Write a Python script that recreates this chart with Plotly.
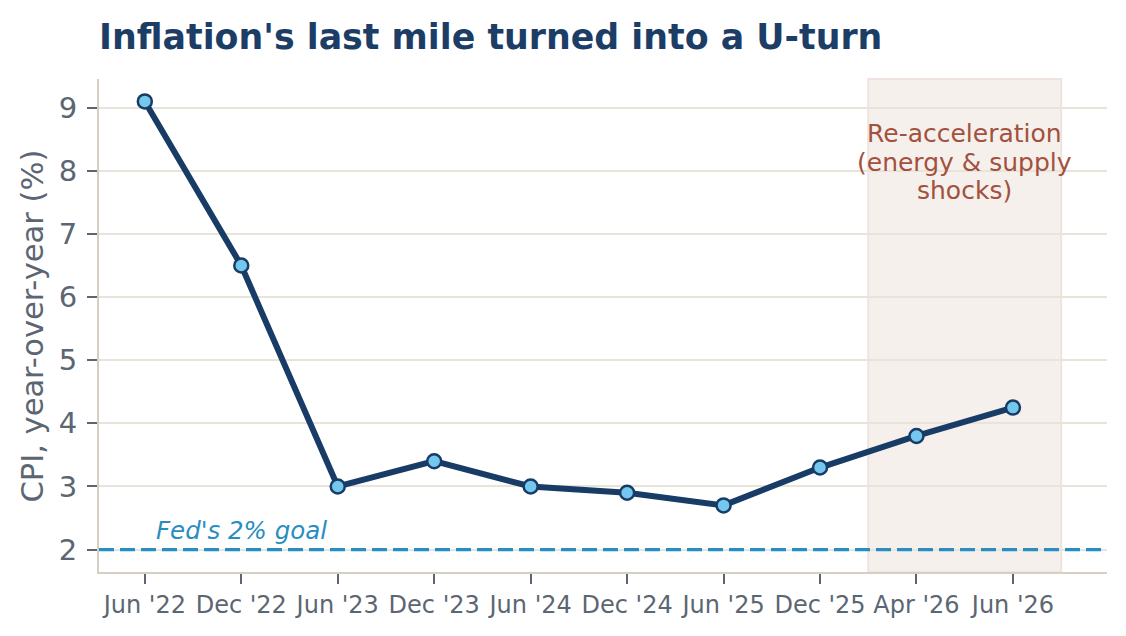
import plotly.graph_objects as go

periods = ["Jun '22", "Dec '22", "Jun '23", "Dec '23", "Jun '24", "Dec '24",
           "Jun '25", "Dec '25", "Apr '26", "Jun '26"]
cpi_yoy = [9.1, 6.5, 3.0, 3.4, 3.0, 2.9, 2.7, 3.3, 3.8, 4.25]
fed_goal = 2.0
shade_start, shade_end = 7.5, 9.5
yticks = [2, 3, 4, 5, 6, 7, 8, 9]
shade_label_lines = ["Re-acceleration", "(energy & supply", "shocks)"]
shade_label_y = [8.585, 8.14, 7.695]

NAVY = "#183c66"
LIGHT = "#74c8ee"
BLUE = "#2a8dbf"
RUST = "#a3513c"
TICK = "#5b6672"
GRID = "#e8e4d9"
SPINE = "#d6d0c4"
FONT = "DejaVu Sans"

fig = go.Figure()

fig.add_trace(go.Scatter(
    x=list(range(len(periods))), y=cpi_yoy, mode="lines+markers",
    line=dict(color=NAVY, width=6),
    marker=dict(size=14, color=LIGHT, line=dict(color=NAVY, width=2.5)),
    showlegend=False, hoverinfo="skip",
))

# shaded re-acceleration window
fig.add_shape(type="rect", xref="x", yref="y domain",
              x0=shade_start, x1=shade_end, y0=0, y1=1,
              fillcolor="#f6f0ed",
              line=dict(color="#eee3de", width=2),
              layer="below")

# Fed goal line
fig.add_shape(type="line", xref="x domain", yref="y",
              x0=0, x1=1, y0=fed_goal, y1=fed_goal,
              line=dict(color=BLUE, width=3.2, dash="15px,6px"),
              layer="above")

fig.add_annotation(x=0.1, y=fed_goal + 0.04, xref="x", yref="y",
                   text="<i>Fed's 2% goal</i>", showarrow=False,
                   xanchor="left", yanchor="bottom",
                   font=dict(family=FONT, size=24.5, color=BLUE))

for line_text, ly in zip(shade_label_lines, shade_label_y):
    fig.add_annotation(x=(shade_start + shade_end) / 2, y=ly, xref="x", yref="y",
                       text=line_text, showarrow=False,
                       xanchor="center", yanchor="middle",
                       font=dict(family=FONT, size=25, color=RUST))

# y-axis label
fig.add_annotation(x=-0.0655, y=0.5, xref="paper", yref="paper",
                   text="CPI, year-over-year (%)", textangle=-90,
                   showarrow=False, xanchor="center", yanchor="middle",
                   font=dict(family=FONT, size=30.5, color=TICK))

fig.update_layout(
    width=1126, height=636,
    margin=dict(l=99, r=19, t=79, b=64),
    paper_bgcolor="white", plot_bgcolor="white",
    font=dict(family=FONT, color=TICK),
    title=dict(text="<b>Inflation's last mile turned into a U-turn</b>",
               x=99 / 1126, xref="container", xanchor="left",
               y=1 - 37 / 636, yref="container", yanchor="middle",
               font=dict(family=FONT, size=34.8, color="#1b3d66")),
)

fig.update_xaxes(
    type="linear", range=[-0.475, 9.975],
    tickmode="array", tickvals=list(range(len(periods))), ticktext=periods,
    showgrid=False, zeroline=False,
    showline=True, linecolor=SPINE, linewidth=2,
    ticks="outside", ticklen=10, tickwidth=2, tickcolor=TICK,
    tickfont=dict(family=FONT, size=24, color=TICK),
    ticklabelstandoff=0,
)
fig.update_yaxes(
    range=[1.645, 9.455],
    tickmode="array", tickvals=yticks,
    showgrid=True, gridcolor=GRID, gridwidth=2,
    zeroline=False,
    showline=True, linecolor=SPINE, linewidth=2,
    ticks="outside", ticklen=10, tickwidth=2, tickcolor=TICK,
    tickfont=dict(family=FONT, size=29, color=TICK),
    ticklabelstandoff=4,
)

fig.write_html("out.html")
